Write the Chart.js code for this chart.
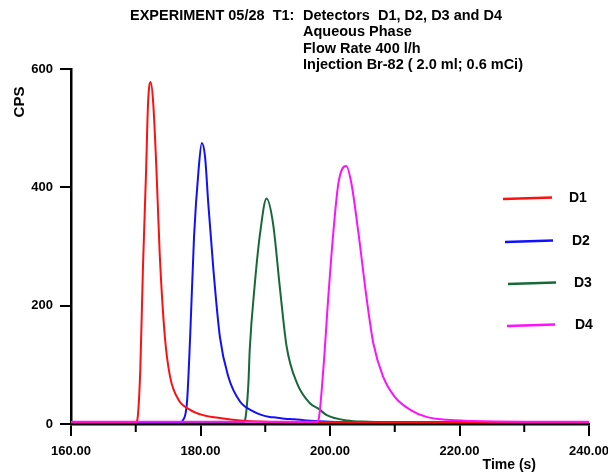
<!DOCTYPE html>
<html>
<head>
<meta charset="utf-8">
<script src="https://cdn.jsdelivr.net/npm/chart.js@4.4.1/dist/chart.umd.min.js"></script>
<style>
    html, body { margin: 0; padding: 0; background: #fff; }
    canvas { display: block; }
</style>
</head>
<body>
<canvas id="tracer" width="608" height="476"></canvas>
<script>
// detector responses, time in s and count rate in CPS
const d1Time = [160, 165, 170.0, 170.2, 170.7, 171.1, 171.6, 171.9, 172.3, 172.7, 173.2, 173.7, 174.5, 175.3, 176.6, 178.4, 180.4, 183.0, 186.1, 190, 200, 210, 220, 230, 240];
const d1Cps = [3, 3, 3, 5, 91, 260, 429, 542, 578, 542, 429, 288, 147, 80, 41, 24, 15, 10, 6, 4, 3, 3, 3, 3, 3];

const d2Time = [160, 170, 177.0, 177.2, 177.9, 178.4, 179.0, 179.7, 180.2, 180.7, 181.2, 182.0, 183.0, 184.3, 186.1, 188.2, 189.5, 190.7, 191.6, 193.0, 194.5, 196.4, 200, 210, 220, 240];
const d2Cps = [3, 3, 3, 5, 35, 147, 316, 429, 475, 452, 373, 260, 147, 80, 38, 21, 15, 12, 11, 9, 8, 6, 4, 3, 3, 3];

const d3Time = [160, 175, 186.7, 186.9, 187.4, 187.6, 188.4, 189.2, 190.2, 191.2, 192.3, 193.3, 194.9, 196.9, 198.2, 199.5, 202.6, 206, 210, 220, 240];
const d3Cps = [3, 3, 3, 7, 69, 125, 238, 322, 381, 339, 226, 131, 69, 35, 26, 15, 6, 4, 3, 3, 3];

const d4Time = [160, 180, 198.0, 198.2, 199.0, 199.7, 200.5, 201.3, 202.5, 203.3, 204.4, 205.7, 206.7, 208.2, 210.0, 212.4, 214.9, 218.0, 222, 230, 240];
const d4Cps = [4, 4, 4, 6, 97, 209, 322, 407, 436, 407, 322, 209, 136, 80, 46, 24, 12, 7, 5, 4, 4];

const detectors = ["D1", "D2", "D3", "D4"];
const colors = ["#ff1010", "#1010ff", "#17693a", "#ff10ff"];

const xTicks = [160, 240, 10];   // min, max, step
const yTicks = [0, 600, 200];

const headerLines = [
    "Detectors  D1, D2, D3 and D4",
    "Aqueous Phase",
    "Flow Rate 400 l/h",
    "Injection Br-82 ( 2.0 ml; 0.6 mCi)"
];

const FONT = "'Liberation Sans', Arial, sans-serif";

const toPoints = (times, values) => times.map((t, i) => ({ x: t, y: values[i] }));
const series = [[d1Time, d1Cps], [d2Time, d2Cps], [d3Time, d3Cps], [d4Time, d4Cps]];

// legend rows: line start/end, label x, row y
const legendRows = [
    { x0: 503, x1: 552, tx: 569, y: 198 },
    { x0: 505, x1: 553, tx: 572, y: 241 },
    { x0: 508, x1: 556, tx: 574, y: 283 },
    { x0: 507, x1: 555, tx: 575, y: 325 }
];

const decorations = {
    id: "decorations",
    afterDraw(chart) {
        const { ctx } = chart;
        const xScale = chart.scales.x;
        ctx.save();
        ctx.fillStyle = "#000";
        ctx.textBaseline = "middle";

        // header
        ctx.font = "bold 14.5px " + FONT;
        ctx.textAlign = "left";
        ctx.fillText("EXPERIMENT 05/28  T1:", 130, 16);
        headerLines.forEach((line, i) => ctx.fillText(line, 303, 16 + i * 16.4));

        // axis titles
        ctx.font = "bold 14px " + FONT;
        ctx.textAlign = "right";
        ctx.fillText("Time (s)", 536, 465);
        ctx.save();
        ctx.translate(20, 102);
        ctx.rotate(-Math.PI / 2);
        ctx.textAlign = "center";
        ctx.font = "bold 15px " + FONT;
        ctx.fillText("CPS", 0, 0);
        ctx.restore();

        // short minor ticks on the time axis
        ctx.strokeStyle = "#000";
        ctx.lineWidth = 2;
        xScale.ticks.forEach(tick => {
            if (tick.value % 20 === 0) return;
            const px = xScale.getPixelForValue(tick.value);
            ctx.beginPath();
            ctx.moveTo(px, xScale.top);
            ctx.lineTo(px, xScale.top + 8);
            ctx.stroke();
        });

        // legend
        ctx.font = "bold 14px " + FONT;
        ctx.textAlign = "left";
        legendRows.forEach((row, i) => {
            ctx.strokeStyle = colors[i];
            ctx.lineWidth = 2.5;
            ctx.beginPath();
            ctx.moveTo(row.x0, row.y + 1);
            ctx.lineTo(row.x1, row.y - 0.5);
            ctx.stroke();
            ctx.fillText(detectors[i], row.tx, row.y);
        });
        ctx.restore();
    }
};

new Chart(document.getElementById("tracer").getContext("2d"), {
    type: "line",
    data: {
        datasets: series.map(([t, v], i) => ({
            label: detectors[i],
            data: toPoints(t, v),
            borderColor: colors[i],
            borderWidth: 2,
            pointRadius: 0,
            cubicInterpolationMode: "monotone",
            order: i === 3 ? 0 : i + 1
        }))
    },
    options: {
        responsive: false,
        animation: false,
        devicePixelRatio: 1,
        layout: { padding: { top: 69, right: 19, left: 0, bottom: 0 } },
        plugins: { legend: { display: false }, tooltip: { enabled: false } },
        scales: {
            x: {
                type: "linear",
                min: xTicks[0],
                max: xTicks[1],
                afterFit: scale => {
                    scale.height = 52;
                    scale.paddingLeft = 0;
                    scale.paddingRight = 0;
                },
                border: { display: true, color: "#000", width: 2.5 },
                grid: {
                    drawOnChartArea: false,
                    drawTicks: true,
                    tickLength: 12,
                    lineWidth: 2,
                    color: c => (c.tick && c.tick.value % 20 !== 0) ? "rgba(0,0,0,0)" : "#000"
                },
                ticks: {
                    stepSize: xTicks[2],
                    autoSkip: false,
                    maxRotation: 0,
                    padding: 8,
                    color: "#000",
                    font: { family: FONT, size: 13, weight: "bold" },
                    callback: v => v % 20 === 0 ? v.toFixed(2) : ""
                }
            },
            y: {
                min: yTicks[0],
                max: yTicks[1],
                afterFit: scale => { scale.width = 71; },
                border: { display: true, color: "#000", width: 2.5 },
                grid: {
                    drawOnChartArea: false,
                    drawTicks: true,
                    tickLength: 11,
                    lineWidth: 2,
                    color: "#000"
                },
                ticks: {
                    stepSize: yTicks[2],
                    padding: 7,
                    color: "#000",
                    font: { family: FONT, size: 13, weight: "bold" }
                }
            }
        }
    },
    plugins: [decorations]
});
</script>
</body>
</html>
